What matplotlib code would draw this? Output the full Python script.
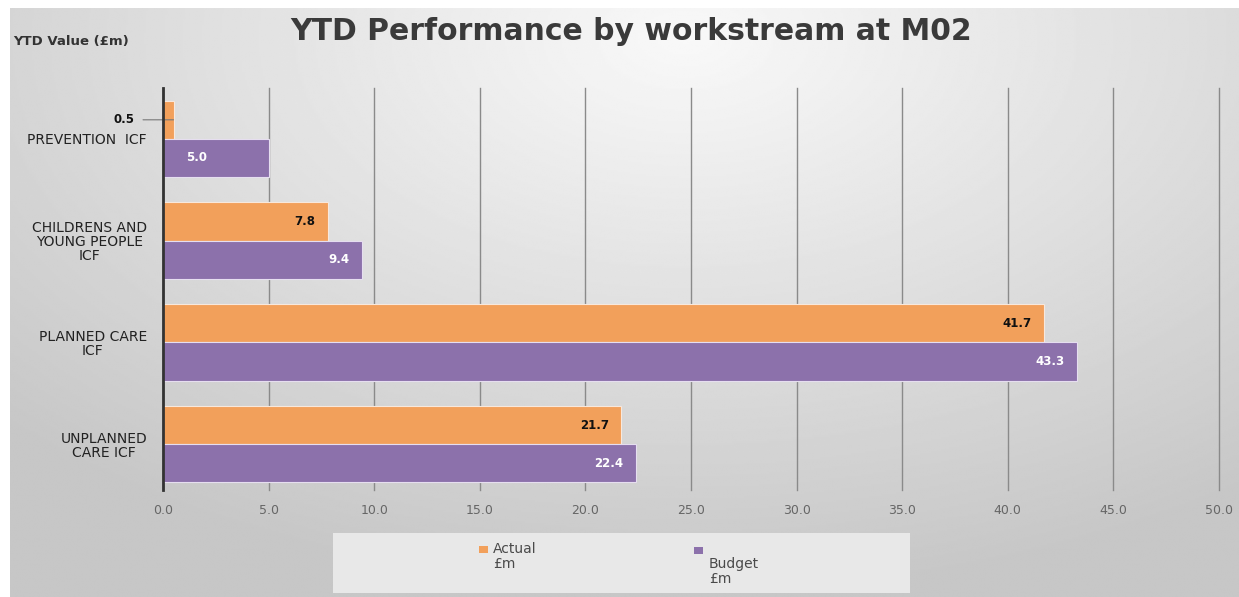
import numpy as np
import matplotlib.pyplot as plt
from matplotlib.patches import Rectangle

plt.rcParams['font.family'] = ['DejaVu Sans']

categories = ['PREVENTION  ICF', 'CHILDRENS AND\nYOUNG PEOPLE\nICF',
              'PLANNED CARE\nICF', 'UNPLANNED\nCARE ICF']
actual = [0.5, 7.8, 41.7, 21.7]
budget = [5.0, 9.4, 43.3, 22.4]
xticks = np.arange(0, 50.1, 5)

orange = '#F2A05B'
purple = '#8C71AB'

W, H = 1239, 597
fig = plt.figure(figsize=(W / 100, H / 100), dpi=100)
fig.patch.set_facecolor('white')

# background gradient (white strip top and left like the screenshot)
bg = fig.add_axes([10 / W, 0, 1 - 10 / W, 1 - 8 / H])
yy, xx = np.mgrid[0:1:300j, 0:1:600j]
r = np.sqrt(((xx - 0.55) * 1.1) ** 2 + ((yy - 0.05) * 0.9) ** 2)
grad = np.clip(0.975 - 0.23 * r, 0.78, 1.0)
bg.imshow(grad, cmap='gray', vmin=0, vmax=1, aspect='auto',
          extent=[0, 1, 1, 0], interpolation='bilinear')
bg.set_axis_off()

ax = fig.add_axes([163 / W, 1 - 490 / H, (1219 - 163) / W, (490 - 88) / H])
ax.patch.set_alpha(0)

y = np.arange(len(categories))
h = 0.375
b1 = ax.barh(y - h / 2, actual, h, color=orange, edgecolor='#f8e8dc', linewidth=0.8, zorder=3)
b2 = ax.barh(y + h / 2, budget, h, color=purple, edgecolor='#e6def0', linewidth=0.8, zorder=3)

ax.set_xlim(0, 50)
ax.set_ylim(len(categories) - 0.55, -0.5)
ax.set_xticks(xticks)
ax.set_xticklabels(['%.1f' % t for t in xticks], color='#666666', fontsize=9)
ax.set_yticks(y)
ax.set_yticklabels(categories, fontsize=10, color='#222222', ha='right',
                   multialignment='center', linespacing=1.0)
ax.tick_params(axis='y', length=0, pad=11.5)
ax.tick_params(axis='x', length=0, pad=10)
ax.grid(axis='x', color='#8a8a8a', linewidth=1.0, zorder=0)
for gl in ax.get_xgridlines():
    gl.set_clip_on(False)
for s in ['top', 'right', 'bottom']:
    ax.spines[s].set_visible(False)
ax.spines['left'].set_color('#333333')
ax.spines['left'].set_linewidth(2)
ax.spines['left'].set_zorder(5)

# data labels
for rect, v in zip(b1, actual):
    yc = rect.get_y() + rect.get_height() / 2
    if v < 2:
        ax.annotate('%.1f' % v, xy=(v, yc), xytext=(-28, 0), textcoords='offset points',
                    ha='right', va='center', fontsize=8.5, fontweight='bold', color='#111111',
                    arrowprops=dict(arrowstyle='-', color='#777777', lw=0.8,
                                    shrinkA=4, shrinkB=0))
    else:
        ax.annotate('%.1f' % v, xy=(v, yc), xytext=(-9, 0), textcoords='offset points',
                    ha='right', va='center', fontsize=8.5, fontweight='bold', color='#111111')
for rect, v in zip(b2, budget):
    yc = rect.get_y() + rect.get_height() / 2
    if v < 6:
        ax.text(v * 0.32, yc, '%.1f' % v, ha='center', va='center',
                fontsize=8.5, fontweight='bold', color='white')
    else:
        ax.annotate('%.1f' % v, xy=(v, yc), xytext=(-9, 0), textcoords='offset points',
                    ha='right', va='center', fontsize=8.5, fontweight='bold', color='white')

fig.text(631 / W, 1 - 31 / H, 'YTD Performance by workstream at M02', ha='center',
         va='center', fontsize=21.5, fontweight='bold', color='#3a3a3a')
fig.text(13 / W, 1 - 42 / H, 'YTD Value (£m)', ha='left', va='center',
         fontsize=9.5, fontweight='bold', color='#333333')

# legend
fig.patches.append(Rectangle((333 / W, 1 - 593 / H), (910 - 333) / W, 60 / H,
                             transform=fig.transFigure, facecolor='#e8e8e8',
                             edgecolor='none', zorder=1))
for sx, sy, c in [(479, 549, orange), (694, 550, purple)]:
    fig.patches.append(Rectangle((sx / W, 1 - (sy + 4) / H), 9 / W, 7 / H,
                                 transform=fig.transFigure, facecolor=c,
                                 edgecolor='none', zorder=2))
fig.text(493 / W, 1 - 542 / H, 'Actual\n£m', ha='left', va='top', fontsize=10,
         color='#4a4a4a', linespacing=1.05)
fig.text(709 / W, 1 - 557 / H, 'Budget\n£m', ha='left', va='top', fontsize=10,
         color='#4a4a4a', linespacing=1.05)

fig.savefig('out.png', dpi=100)
